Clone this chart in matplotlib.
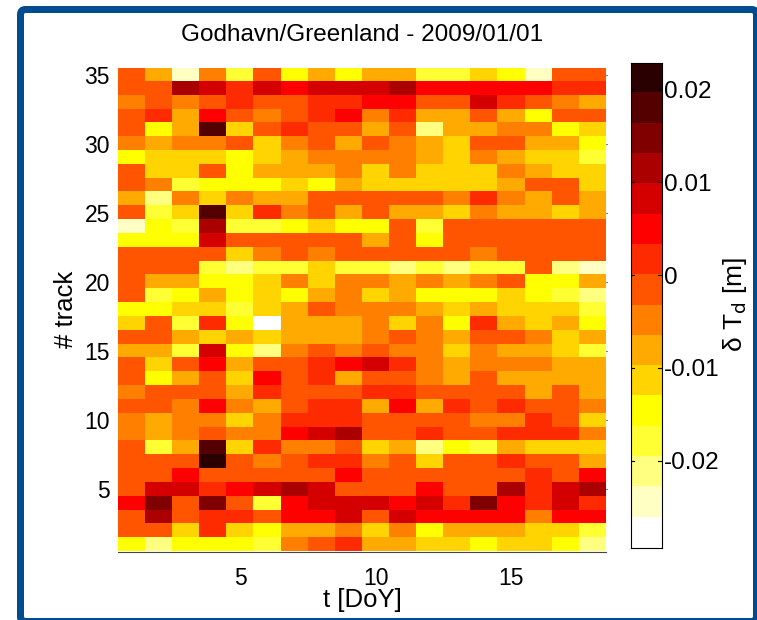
#!/usr/bin/env python3
"""Track delay residuals per day of year, drawn as a coloured grid."""

import numpy as np
import matplotlib
matplotlib.use('Agg')
import matplotlib.pyplot as plt
from matplotlib.colors import ListedColormap
from matplotlib.patches import FancyBboxPatch

plt.rcParams['font.family'] = ['Liberation Sans', 'DejaVu Sans']

W, H = 757, 620

# colour class of each cell, one list per track from 35 down to 1
track_35 = [8, 6, 1, 7, 3, 8, 4, 6, 4, 6, 6, 3, 3, 5, 4, 1, 8, 8]
track_34 = [8, 8, 12, 11, 9, 11, 10, 11, 11, 11, 12, 10, 10, 10, 10, 10, 9, 9]
track_33 = [7, 8, 7, 8, 9, 8, 8, 9, 9, 10, 10, 8, 8, 11, 9, 8, 7, 6]
track_32 = [8, 9, 6, 10, 8, 7, 8, 9, 10, 7, 9, 6, 6, 8, 6, 4, 8, 8]
track_31 = [8, 4, 6, 14, 5, 8, 9, 8, 8, 6, 8, 2, 6, 6, 7, 7, 4, 5]
track_30 = [7, 6, 7, 7, 8, 5, 7, 8, 6, 8, 7, 6, 5, 8, 8, 6, 6, 4]
track_29 = [4, 5, 5, 5, 4, 5, 6, 7, 7, 7, 7, 6, 5, 7, 6, 5, 5, 3]
track_28 = [8, 5, 5, 8, 4, 6, 6, 6, 7, 5, 7, 5, 5, 5, 7, 6, 5, 5]
track_27 = [8, 7, 3, 4, 4, 4, 5, 4, 6, 5, 5, 5, 5, 5, 6, 8, 8, 5]
track_26 = [6, 2, 7, 5, 7, 6, 6, 8, 8, 8, 8, 8, 7, 9, 7, 6, 8, 6]
track_25 = [8, 3, 5, 14, 5, 9, 7, 8, 6, 8, 6, 6, 5, 7, 6, 6, 5, 6]
track_24 = [1, 4, 3, 12, 3, 3, 4, 5, 4, 4, 8, 3, 8, 8, 8, 8, 8, 8]
track_23 = [4, 4, 4, 11, 8, 8, 8, 8, 8, 6, 8, 4, 8, 8, 8, 8, 8, 8]
track_22 = [8, 8, 8, 8, 5, 7, 8, 7, 8, 8, 8, 8, 8, 7, 8, 8, 8, 8]
track_21 = [8, 8, 8, 3, 2, 3, 3, 5, 3, 3, 2, 3, 2, 3, 3, 8, 2, 1]
track_20 = [8, 6, 6, 4, 4, 5, 7, 5, 7, 7, 6, 7, 6, 7, 8, 4, 4, 6]
track_19 = [8, 3, 4, 6, 4, 5, 4, 6, 7, 5, 6, 4, 4, 4, 5, 4, 3, 2]
track_18 = [4, 4, 5, 5, 3, 5, 6, 8, 7, 7, 7, 6, 5, 6, 5, 5, 5, 3]
track_17 = [5, 8, 3, 9, 4, 0, 6, 6, 6, 7, 5, 7, 4, 9, 6, 5, 6, 4]
track_16 = [8, 8, 6, 5, 6, 5, 6, 6, 6, 7, 8, 7, 6, 8, 8, 7, 5, 6]
track_15 = [6, 6, 3, 11, 4, 2, 7, 8, 7, 8, 7, 7, 5, 7, 6, 6, 5, 3]
track_14 = [8, 5, 8, 10, 6, 8, 8, 9, 10, 11, 9, 7, 6, 7, 7, 7, 6, 6]
track_13 = [8, 4, 6, 8, 5, 10, 8, 9, 6, 8, 8, 7, 6, 8, 6, 6, 6, 6]
track_12 = [7, 8, 8, 8, 6, 9, 8, 8, 8, 9, 9, 8, 8, 8, 8, 6, 8, 6]
track_11 = [8, 8, 7, 10, 7, 6, 8, 9, 9, 6, 10, 6, 9, 8, 9, 8, 8, 7]
track_10 = [7, 6, 7, 7, 5, 7, 9, 9, 9, 8, 8, 8, 8, 7, 7, 9, 8, 5]
track_09 = [7, 6, 7, 8, 7, 7, 10, 11, 12, 8, 8, 9, 8, 8, 9, 9, 9, 7]
track_08 = [8, 3, 6, 14, 5, 9, 7, 7, 8, 5, 6, 2, 4, 3, 6, 5, 5, 5]
track_07 = [8, 8, 8, 15, 8, 7, 8, 9, 9, 7, 8, 5, 8, 8, 9, 8, 8, 6]
track_06 = [8, 8, 10, 8, 8, 8, 8, 8, 10, 8, 8, 8, 8, 8, 8, 9, 8, 10]
track_05 = [8, 11, 11, 9, 10, 11, 12, 11, 8, 8, 8, 10, 8, 8, 12, 9, 11, 12]
track_04 = [10, 13, 8, 13, 8, 3, 10, 11, 11, 11, 10, 11, 9, 13, 10, 9, 11, 9]
track_03 = [8, 12, 8, 9, 9, 8, 10, 10, 11, 8, 11, 10, 10, 10, 10, 7, 10, 10]
track_02 = [8, 8, 5, 9, 5, 4, 6, 6, 7, 5, 7, 4, 6, 6, 6, 5, 5, 3]
track_01 = [4, 2, 4, 4, 4, 3, 7, 8, 9, 6, 6, 5, 5, 4, 5, 5, 4, 2]

levels = np.array([
    track_01, track_02, track_03, track_04, track_05, track_06, track_07,
    track_08, track_09, track_10, track_11, track_12, track_13, track_14,
    track_15, track_16, track_17, track_18, track_19, track_20, track_21,
    track_22, track_23, track_24, track_25, track_26, track_27, track_28,
    track_29, track_30, track_31, track_32, track_33, track_34, track_35,
])

colours = ['#FFFFFF', '#FFFFC4', '#FFFF80', '#FFFF33', '#FFFF00', '#FFD400',
           '#FFAA00', '#FF8000', '#FF5500', '#FF2B00', '#FF0000', '#D40000',
           '#AA0000', '#800000', '#550000', '#2B0000']

x_ticks = [5, 10, 15]
y_ticks = [5, 10, 15, 20, 25, 30, 35]
cbar_ticks = [-0.02, -0.01, 0, 0.01, 0.02]
cbar_labels = ['-0.02', '-0.01', '0', '0.01', '0.02']

vmin, vmax = -0.02935, 0.0229
step = (vmax - vmin) / len(colours)
values = vmin + (levels + 0.5) * step


def px_axes(fig, left, top, right, bottom):
    """Add axes placed by pixel edges, measured from the top left."""
    return fig.add_axes([left / W, 1 - bottom / H, (right - left) / W, (bottom - top) / H])


fig = plt.figure(figsize=(W / 100, H / 100), dpi=100)

# blue slide frame round the plot, on a full figure axes in pixels
back = fig.add_axes([0, 0, 1, 1], zorder=-1)
back.set_xlim(0, W)
back.set_ylim(H, 0)
back.axis('off')
back.add_patch(FancyBboxPatch((20.5, 9.5), 736, 612, boxstyle='round,pad=0,rounding_size=5',
                              facecolor='white', edgecolor='#014C8F', linewidth=5.04,
                              clip_on=False))

cmap = ListedColormap(colours)

ax = px_axes(fig, 118.3, 67.7, 606, 551.5)
ax.imshow(values, origin='lower', aspect='auto', cmap=cmap, vmin=vmin, vmax=vmax,
          interpolation='nearest', extent=(0.5, 18.5, 0.5, 35.5))
ax.set_xticks(x_ticks)
ax.set_yticks(y_ticks)
ax.tick_params(axis='x', length=0, labelsize=16.5, pad=11)
ax.tick_params(axis='y', left=False, right=True, direction='out', length=1, labelleft=True,
               labelsize=16.5, pad=5)
for name, side in ax.spines.items():
    side.set_visible(name == 'bottom')
ax.spines['bottom'].set_color('#444444')
ax.set_title('Godhavn/Greenland - 2009/01/01', fontsize=17.5, pad=19)
ax.set_xlabel('t [DoY]', fontsize=18.5, labelpad=-1)
ax.set_ylabel('# track', fontsize=18.5, labelpad=5)

cax = px_axes(fig, 630.5, 62.5, 661.5, 547.5)
cax.imshow(np.linspace(vmin + step / 2, vmax - step / 2, len(colours)).reshape(-1, 1),
           origin='lower', aspect='auto', cmap=cmap, vmin=vmin, vmax=vmax,
           interpolation='nearest', extent=(0, 1, vmin, vmax))
cax.set_xticks([])
cax.yaxis.tick_right()
cax.set_yticks(cbar_ticks)
cax.set_yticklabels(cbar_labels)
cax.tick_params(axis='y', length=0, labelsize=17.5, pad=2)
for y in cbar_ticks:
    cax.plot([0, 0.1], [y, y], color='black', lw=0.8)
    cax.plot([0.9, 1], [y, y], color='black', lw=0.8)
cax.set_xlim(0, 1)
cax.set_ylim(vmin, vmax)
cax.yaxis.set_label_position('right')
cax.set_ylabel('\u03b4 T$_{\\mathrm{d}}$ [m]', fontsize=19, labelpad=1)

fig.savefig('out.png', dpi=100)
